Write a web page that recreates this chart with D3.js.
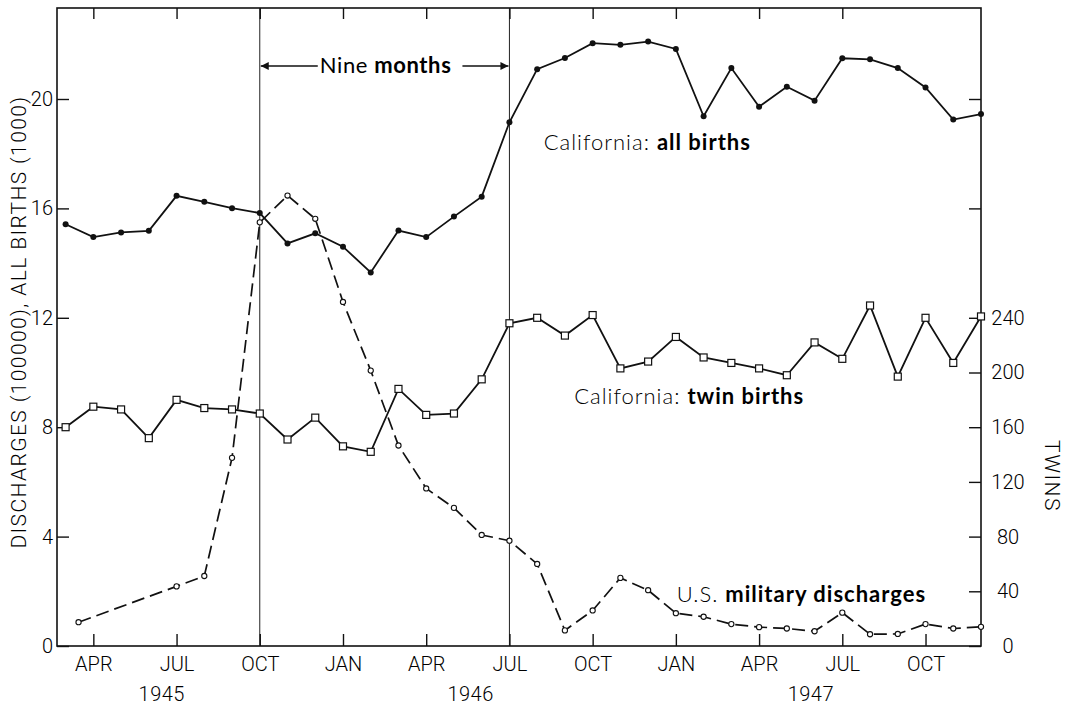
<!DOCTYPE html>
<html><head><meta charset="utf-8">
<script src="https://cdn.jsdelivr.net/npm/d3@7"></script>
<style>body{margin:0;background:#fff}</style>
</head><body><svg id="c" width="1069" height="708"></svg>
<script>
// ---- data ----
const months = ["1945-03","1945-04","1945-05","1945-06","1945-07","1945-08","1945-09","1945-10","1945-11","1945-12",
  "1946-01","1946-02","1946-03","1946-04","1946-05","1946-06","1946-07","1946-08","1946-09","1946-10","1946-11","1946-12",
  "1947-01","1947-02","1947-03","1947-04","1947-05","1947-06","1947-07","1947-08","1947-09","1947-10","1947-11","1947-12"];
const allBirths = [15.42,14.95,15.12,15.18,16.46,16.24,16.01,15.83,14.72,15.09,
  14.60,13.66,15.19,14.95,15.70,16.43,19.15,21.09,21.50,22.04,21.98,22.10,
  21.83,19.37,21.13,19.72,20.45,19.94,21.49,21.45,21.13,20.42,19.25,19.45];
const twinBirths = [160,175,173,152,180,174,173,170,151,167,
  146,142,188,169,170,195,236,240,227,242,203,208,
  226,211,207,203,198,222,210,249,197,240,207,241];
const dischargeMonths = ["1945-03-15","1945-07","1945-08","1945-09","1945-10","1945-11","1945-12",
  "1946-01","1946-02","1946-03","1946-04","1946-05","1946-06","1946-07","1946-08","1946-09","1946-10","1946-11","1946-12",
  "1947-01","1947-02","1947-03","1947-04","1947-05","1947-06","1947-07","1947-08","1947-09","1947-10","1947-11","1947-12"];
const discharges = [0.87,2.18,2.56,6.88,15.49,16.47,15.62,
  12.58,10.07,7.33,5.76,5.05,4.06,3.85,3.00,0.57,1.30,2.49,2.04,
  1.20,1.07,0.80,0.69,0.64,0.54,1.22,0.43,0.44,0.80,0.64,0.70];
const monthTicks = ["1945-04","1945-07","1945-10","1946-01","1946-04","1946-07","1946-10","1947-01","1947-04","1947-07","1947-10"];
const monthTickLabels = ["APR","JUL","OCT","JAN","APR","JUL","OCT","JAN","APR","JUL","OCT"];
const years = ["1945","1946","1947"];
const yearLabelAt = ["1945-06-15","1946-05-19","1947-05-27"];
const leftTicks = [0,4,8,12,16,20];
const rightLeftUnitTicks = [16,20];
const twinTicks = [0,40,80,120,160,200,240];
const markerLines = ["1945-10","1946-07"];

// ---- helpers ----
function mIdx(s){ const p=s.split("-").map(Number); return (p[0]-1945)*12+(p[1]-1)+((p[2]||1)-1)/30; }

const svg = d3.select("#c");
const L=57,R=981,T=8,B=646;
const x = d3.scaleLinear().domain([mIdx("1945-03")-0.31, mIdx("1947-12")]).range([L,R]);
const y = d3.scaleLinear().domain([0,20]).range([B,99]);
const yT = d3.scaleLinear().domain([0,400]).range([B,99]);
const tickFont = "Roboto, 'Liberation Sans', sans-serif";
const labFont = "Lato, 'Open Sans', sans-serif";

// frame
svg.append("rect").attr("x",L).attr("y",T).attr("width",R-L).attr("height",B-T)
  .attr("fill","none").attr("stroke","#111").attr("stroke-width",1.6);

// vertical marker lines
svg.selectAll(".vl").data(markerLines).enter().append("line")
  .attr("x1",d=>x(mIdx(d))).attr("x2",d=>x(mIdx(d))).attr("y1",T).attr("y2",B)
  .attr("stroke","#222").attr("stroke-width",1);

function styleAxis(g){
  g.select(".domain").remove();
  g.selectAll(".tick line").attr("stroke","#111").attr("stroke-width",1.4);
  g.selectAll("text").attr("font-family",tickFont).attr("font-weight",300).attr("font-size",20).attr("fill","#000");
}
// bottom axis
const bx = svg.append("g").attr("transform",`translate(0,${B})`)
  .call(d3.axisBottom(x).tickValues(monthTicks.map(mIdx)).tickSize(-12).tickPadding(11)
    .tickFormat((d,i)=>monthTickLabels[i]));
styleAxis(bx);
// top axis
const tx = svg.append("g").attr("transform",`translate(0,${T})`)
  .call(d3.axisTop(x).tickValues(monthTicks.slice(0,-1).map(mIdx)).tickSize(-11).tickFormat(""));
styleAxis(tx);
// left axis
const ly = svg.append("g").attr("transform",`translate(${L},0)`)
  .call(d3.axisLeft(y).tickValues(leftTicks).tickSize(-12).tickPadding(4).tickFormat(d3.format("d")));
styleAxis(ly);
// right axis: unlabeled ticks in left units
const ry1 = svg.append("g").attr("transform",`translate(${R},0)`)
  .call(d3.axisRight(y).tickValues(rightLeftUnitTicks).tickSize(-12).tickFormat(""));
styleAxis(ry1);
// right axis: twins
const ry2 = svg.append("g").attr("transform",`translate(${R},0)`)
  .call(d3.axisRight(yT).tickValues(twinTicks).tickSize(-12).tickPadding(27).tickFormat(d3.format("d")));
styleAxis(ry2);
ry2.selectAll("text").attr("text-anchor","middle");

// year labels
svg.selectAll(".yr").data(years).enter().append("text")
  .attr("x",(d,i)=>x(mIdx(yearLabelAt[i]))).attr("y",701).attr("text-anchor","middle")
  .attr("font-family",tickFont).attr("font-weight",300).attr("font-size",20).attr("letter-spacing",0.5).attr("fill","#000").text(d=>d);

// axis titles
svg.append("text").attr("transform","translate(26,322) rotate(-90)").attr("text-anchor","middle")
  .attr("font-family",tickFont).attr("font-weight",300).attr("font-size",21).attr("letter-spacing",1.4).attr("fill","#000")
  .text("DISCHARGES (100000), ALL BIRTHS (1000)");
svg.append("text").attr("transform","translate(1045,476) rotate(90)").attr("text-anchor","middle")
  .attr("font-family",tickFont).attr("font-weight",300).attr("font-size",21).attr("letter-spacing",1.5).attr("fill","#000")
  .text("TWINS");

// series
const birthsData = months.map((m,i)=>({m:mIdx(m),v:allBirths[i]}));
const twinsData = months.map((m,i)=>({m:mIdx(m),v:twinBirths[i]}));
const dischData = dischargeMonths.map((m,i)=>({m:mIdx(m),v:discharges[i]}));

svg.append("path").datum(dischData)
  .attr("d",d3.line().x(d=>x(d.m)).y(d=>y(d.v)))
  .attr("fill","none").attr("stroke","#111").attr("stroke-width",1.7).attr("stroke-dasharray","13,6");
svg.append("path").datum(birthsData)
  .attr("d",d3.line().x(d=>x(d.m)).y(d=>y(d.v)))
  .attr("fill","none").attr("stroke","#111").attr("stroke-width",1.8);
svg.append("path").datum(twinsData)
  .attr("d",d3.line().x(d=>x(d.m)).y(d=>yT(d.v)))
  .attr("fill","none").attr("stroke","#111").attr("stroke-width",1.8);

svg.selectAll(".bp").data(birthsData).enter().append("circle")
  .attr("cx",d=>x(d.m)).attr("cy",d=>y(d.v)).attr("r",3).attr("fill","#111");
svg.selectAll(".tp").data(twinsData).enter().append("rect")
  .attr("x",d=>x(d.m)-3.5).attr("y",d=>yT(d.v)-3.5).attr("width",7).attr("height",7)
  .attr("fill","#fff").attr("stroke","#111").attr("stroke-width",1.2);
svg.selectAll(".dp").data(dischData).enter().append("circle")
  .attr("cx",d=>x(d.m)).attr("cy",d=>y(d.v)).attr("r",2.6)
  .attr("fill","#fff").attr("stroke","#111").attr("stroke-width",1.1);

// Nine months annotation
const defs = svg.append("defs");
defs.append("marker").attr("id","ah").attr("viewBox","0 0 10 10").attr("refX",10).attr("refY",5)
  .attr("markerWidth",10).attr("markerHeight",8).attr("markerUnits","userSpaceOnUse").attr("orient","auto")
  .append("path").attr("d","M0,0L10,5L0,10Z").attr("fill","#111");
const xa = x(mIdx(markerLines[0])), xb = x(mIdx(markerLines[1]));
const ay = 66;
svg.append("line").attr("x1",xa+58).attr("x2",xa+1).attr("y1",ay).attr("y2",ay)
  .attr("stroke","#111").attr("stroke-width",1.3).attr("marker-end","url(#ah)");
svg.append("line").attr("x1",xb-47).attr("x2",xb-1).attr("y1",ay).attr("y2",ay)
  .attr("stroke","#111").attr("stroke-width",1.3).attr("marker-end","url(#ah)");
const nm = svg.append("text").attr("x",(xa+xb)/2+1).attr("y",73).attr("text-anchor","middle")
  .attr("font-family",labFont).attr("font-size",22).attr("letter-spacing",0.6).attr("fill","#000");
nm.append("tspan").text("Nine ");
nm.append("tspan").attr("font-weight",700).text("months");

// series labels
function seriesLabel(m,v,a,b){
  const t = svg.append("text").attr("x",x(mIdx(m))).attr("y",y(v))
    .attr("font-family",labFont).attr("font-size",22).attr("letter-spacing",1).attr("fill","#000");
  t.append("tspan").attr("font-weight",300).text(a);
  t.append("tspan").attr("font-weight",700).text(b);
}
seriesLabel("1946-08-08",18.13,"California:  ","all births");
seriesLabel("1946-09-11",8.85,"California:  ","twin births");
seriesLabel("1947-01-02",1.61,"U.S.  ","military discharges");
</script></body></html>
